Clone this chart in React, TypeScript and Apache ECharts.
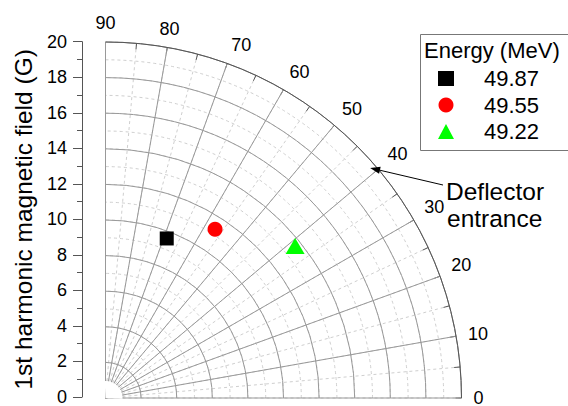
import React, { useEffect, useRef } from "react";
import * as echarts from "echarts";

const ENERGIES = ["49.87", "49.55", "49.22"];
const FIELD = [9.6, 11.3, 13.65];
const PHASE = [69, 57, 38.7];
const SYMBOLS = ["rect", "circle", "triangle"];
const SYMBOL_SIZES: any[] = [14, 15, [19, 16]];
const COLORS = ["#000000", "#ff0000", "#00ff00"];
const DEFLECTOR = { r: 19.7, angle: 41 };

const CX = 105.5;
const CY = 398;
const R = 356;
const FONT = "'Liberation Sans', Arial, sans-serif";

export default function App() {
  const ref = useRef<HTMLDivElement>(null);
  useEffect(() => {
    if (!ref.current) return;
    const chart = echarts.init(ref.current, null, { renderer: "svg" });
    const series = ENERGIES.map((name, i) => ({
      name,
      type: "scatter",
      coordinateSystem: "polar",
      polarIndex: 0,
      symbol: SYMBOLS[i],
      symbolSize: SYMBOL_SIZES[i],
      itemStyle: { color: COLORS[i], opacity: 1 },
      data: [[FIELD[i], PHASE[i]]],
      z: 5,
    }));

    const a = (DEFLECTOR.angle * Math.PI) / 180;
    const rp = (DEFLECTOR.r / 20) * R;
    let tip: number[] = [CX + rp * Math.cos(a), CY - rp * Math.sin(a)];
    const start = [443, 185];

    const buildArrow = (t: number[]) => {
      const dx = t[0] - start[0];
      const dy = t[1] - start[1];
      const len = Math.sqrt(dx * dx + dy * dy);
      const ux = dx / len;
      const uy = dy / len;
      const hl = 10;
      const hw = 3.5;
      const bx = t[0] - ux * hl;
      const by = t[1] - uy * hl;
      return [
        {
          id: "arrowLine",
          type: "line",
          shape: { x1: start[0], y1: start[1], x2: bx, y2: by },
          style: { stroke: "#000", lineWidth: 1 },
          z: 50,
        },
        {
          id: "arrowHead",
          type: "polygon",
          shape: {
            points: [
              [t[0], t[1]],
              [bx - uy * hw, by + ux * hw],
              [bx + uy * hw, by - ux * hw],
            ],
          },
          style: { fill: "#000" },
          z: 50,
        },
      ];
    };

    const dashed = { color: "#cfcfcf", type: [3, 3], width: 1 };
    const solid = { color: "#999", width: 1 };

    chart.setOption({
      animation: false,
      textStyle: { fontFamily: FONT },
      polar: [
        { center: [CX, CY], radius: R },
        { center: [CX, CY], radius: R },
      ],
      angleAxis: [
        {
          polarIndex: 0,
          type: "value",
          min: 0,
          max: 90,
          interval: 10,
          startAngle: 0,
          endAngle: 90,
          clockwise: false,
          z: 2,
          axisLine: { show: true, lineStyle: { color: "#555", width: 1 } },
          axisTick: { show: true, inside: true, length: 6, lineStyle: { color: "#555" } },
          minorTick: { show: true, splitNumber: 2, length: 6, lineStyle: { color: "#555" } },
          axisLabel: { show: true, fontSize: 18, lineHeight: 14, color: "#000", margin: 12, fontFamily: FONT },
          splitLine: { show: true, lineStyle: solid },
        },
        {
          polarIndex: 1,
          type: "value",
          min: 0,
          max: 90,
          interval: 5,
          startAngle: 0,
          endAngle: 90,
          clockwise: false,
          z: 0,
          axisLine: { show: false },
          axisTick: { show: false },
          axisLabel: { show: false },
          splitLine: { show: true, lineStyle: dashed },
        },
      ],
      radiusAxis: [
        {
          polarIndex: 0,
          type: "value",
          min: 0,
          max: 20,
          interval: 2,
          z: 2,
          axisLine: { show: false },
          axisTick: { show: false },
          axisLabel: { show: false },
          splitLine: { show: true, lineStyle: solid },
        },
        {
          polarIndex: 1,
          type: "value",
          min: 0,
          max: 20,
          interval: 1,
          z: 0,
          axisLine: { show: false },
          axisTick: { show: false },
          axisLabel: { show: false },
          splitLine: { show: true, lineStyle: dashed },
        },
      ],
      grid: { left: 82, top: 41.7, width: 1, height: 356.3 },
      xAxis: { type: "value", show: false, min: 0, max: 1 },
      yAxis: {
        type: "value",
        position: "left",
        min: 0,
        max: 20,
        interval: 2,
        name: "1st harmonic magnetic field (G)",
        nameLocation: "middle",
        nameGap: 46,
        nameTextStyle: { fontSize: 24.5, color: "#000", fontFamily: FONT },
        axisLine: { show: true, lineStyle: { color: "#555" } },
        axisTick: { show: true, length: 9, lineStyle: { color: "#555" } },
        minorTick: { show: true, splitNumber: 2, length: 5, lineStyle: { color: "#555" } },
        axisLabel: { fontSize: 18, color: "#000", margin: 15, fontFamily: FONT },
        splitLine: { show: false },
      },
      legend: {
        orient: "vertical",
        left: 433,
        top: 62.5,
        itemWidth: 16,
        itemHeight: 15,
        itemGap: 4.5,
        selectedMode: false,
        data: ENERGIES,
        textStyle: { fontSize: 22, color: "#000", padding: [0, 0, 0, 25], fontFamily: FONT },
      },
      graphic: [
        {
          id: "hole",
          type: "sector",
          shape: { cx: CX, cy: CY, r0: 0, r: 17, startAngle: -Math.PI / 2 - 0.05, endAngle: 0.05 },
          style: { fill: "#fff" },
          z: 100,
        },
        {
          id: "legendBox",
          type: "rect",
          shape: { x: 420.5, y: 34.5, width: 170, height: 116 },
          style: { fill: "none", stroke: "#777", lineWidth: 1 },
        },
        {
          id: "legendTitle",
          type: "text",
          x: 424,
          y: 50,
          style: { text: "Energy (MeV)", fontSize: 22, fill: "#000", verticalAlign: "middle", fontFamily: FONT },
        },
        {
          id: "defl1",
          type: "text",
          x: 446,
          y: 191,
          style: { text: "Deflector", fontSize: 24.5, fill: "#000", verticalAlign: "middle", fontFamily: FONT },
        },
        {
          id: "defl2",
          type: "text",
          x: 447,
          y: 218,
          style: { text: "entrance", fontSize: 24.5, fill: "#000", verticalAlign: "middle", fontFamily: FONT },
        },
        ...buildArrow(tip),
      ],
      series,
    });

    try {
      const p = chart.convertToPixel({ seriesIndex: 0 } as any, [DEFLECTOR.r, DEFLECTOR.angle]) as any;
      if (p && !isNaN(p[0]) && !isNaN(p[1])) {
        tip = p;
        chart.setOption({ graphic: buildArrow(tip) });
      }
    } catch (e) {
      // keep fallback
    }
    return () => chart.dispose();
  }, []);
  return (
    <div
      ref={ref}
      style={{ position: "absolute", left: 0, top: 0, width: 568, height: 406 }}
    />
  );
}
